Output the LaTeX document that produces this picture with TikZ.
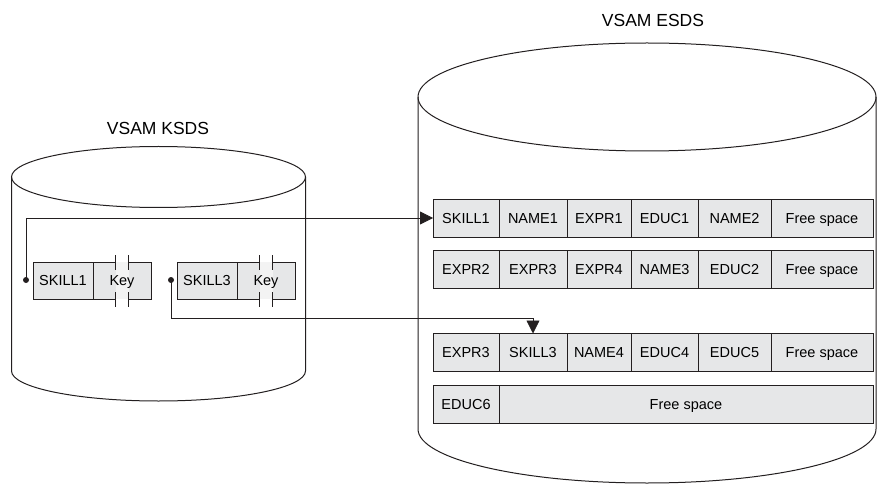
\documentclass[tikz,border=0pt]{standalone}
\usepackage{fontspec}
\setmainfont{Liberation Sans}
\usetikzlibrary{arrows.meta,calc,backgrounds}
\definecolor{RecFill}{HTML}{E6E7E8}
\definecolor{RecGap}{HTML}{F3F3F3}
\definecolor{RecLine}{HTML}{231F20}
\tikzset{
  rec/.style={draw=RecLine,fill=RecFill,line width=0.8pt,inner sep=0pt,outer sep=0pt,minimum height=38pt,
    text height=12pt,text depth=1.6pt,font=\fontsize{14.5}{16}\selectfont},
  keyrec/.style={rec,draw=none,fill=none,minimum height=37pt},
  edge/.style={draw=RecLine,line width=0.8pt},
  ptr/.style={circle,fill=RecLine,inner sep=0pt,minimum size=6pt},
  link/.style={edge,-{Triangle[length=13pt,width=13pt]}},
  disk/.style={draw=RecLine,line width=1pt},
  title/.style={font=\fontsize{17.5}{20}\selectfont},
}
\begin{document}
\begin{tikzpicture}[x=1pt,y=1pt]
\path[use as bounding box] (0,0) rectangle (877,485);
\draw[disk] (11.5,308) -- (11.5,114) arc[start angle=180,end angle=360,x radius=147,y radius=30] -- (305.5,308);
\draw[disk] (158.5,308) ellipse[x radius=147,y radius=30.5];
\draw[disk] (418,388) -- (418,56) arc[start angle=180,end angle=360,x radius=229,y radius=54] -- (876,388);
\draw[disk] (647,388) ellipse[x radius=229,y radius=54];
\node[title] (ksds) at (158,357) {VSAM KSDS};
\node[title] (esds) at (653,465) {VSAM ESDS};
\node[rec,minimum width=60pt,minimum height=37pt] (skill1) at (63,204.5) {SKILL1};
\node[keyrec,minimum width=58pt] (key1) at (122,204.5) {Key};
\node[rec,minimum width=60pt,minimum height=37pt] (skill3) at (207,204.5) {SKILL3};
\node[keyrec,minimum width=58pt] (key3) at (266,204.5) {Key};
\begin{scope}[on background layer]
\foreach \k in {key1,key3}{
  \fill[RecFill] (\k.south west) rectangle (\k.north east);
  \fill[RecGap] ($(\k.south)+(-6.5,0)$) rectangle ($(\k.north)+(6.5,0)$);
}
\end{scope}
\foreach \k in {key1,key3}{
  \draw[edge] ($(\k.north)+(-6.5,0)$) -- (\k.north west) -- (\k.south west) -- ($(\k.south)+(-6.5,0)$)
    ($(\k.south)+(6.5,0)$) -- (\k.south east) -- (\k.north east) -- ($(\k.north)+(6.5,0)$);
  \foreach \d in {-6.5,6.5}
    \draw[edge] ($(\k.north)+(\d,-7.5)$) -- ++(0,15) ($(\k.south)+(\d,-7.5)$) -- ++(0,15);
}
\node[rec,minimum width=66pt] (r1c1) at (466,267) {SKILL1};
\node[rec,minimum width=68pt] (r1c2) at (533,267) {NAME1};
\node[rec,minimum width=64pt] (r1c3) at (599,267) {EXPR1};
\node[rec,minimum width=67pt] (r1c4) at (664.5,267) {EDUC1};
\node[rec,minimum width=73pt] (r1c5) at (734.5,267) {NAME2};
\node[rec,minimum width=102pt] (r1c6) at (822,267) {Free space};
\node[rec,minimum width=66pt] (r2c1) at (466,216) {EXPR2};
\node[rec,minimum width=68pt] (r2c2) at (533,216) {EXPR3};
\node[rec,minimum width=64pt] (r2c3) at (599,216) {EXPR4};
\node[rec,minimum width=67pt] (r2c4) at (664.5,216) {NAME3};
\node[rec,minimum width=73pt] (r2c5) at (734.5,216) {EDUC2};
\node[rec,minimum width=102pt] (r2c6) at (822,216) {Free space};
\node[rec,minimum width=66pt] (r3c1) at (466,132.5) {EXPR3};
\node[rec,minimum width=68pt] (r3c2) at (533,132.5) {SKILL3};
\node[rec,minimum width=64pt] (r3c3) at (599,132.5) {NAME4};
\node[rec,minimum width=67pt] (r3c4) at (664.5,132.5) {EDUC4};
\node[rec,minimum width=73pt] (r3c5) at (734.5,132.5) {EDUC5};
\node[rec,minimum width=102pt] (r3c6) at (822,132.5) {Free space};
\node[rec,minimum width=66pt] (r4c1) at (466,81) {EDUC6};
\node[rec,minimum width=374pt] (r4c2) at (686,81) {Free space};
\node[ptr] (p1) at (26,205) {};
\node[ptr] (p3) at (171,205) {};
\coordinate (turn3) at ($(r3c2.north)+(0,15)$);
\draw[link] (p1.center) |- (r1c1.west);
\draw[link] (p3.center) |- (turn3) -- (r3c2.north);
\end{tikzpicture}
\end{document}
